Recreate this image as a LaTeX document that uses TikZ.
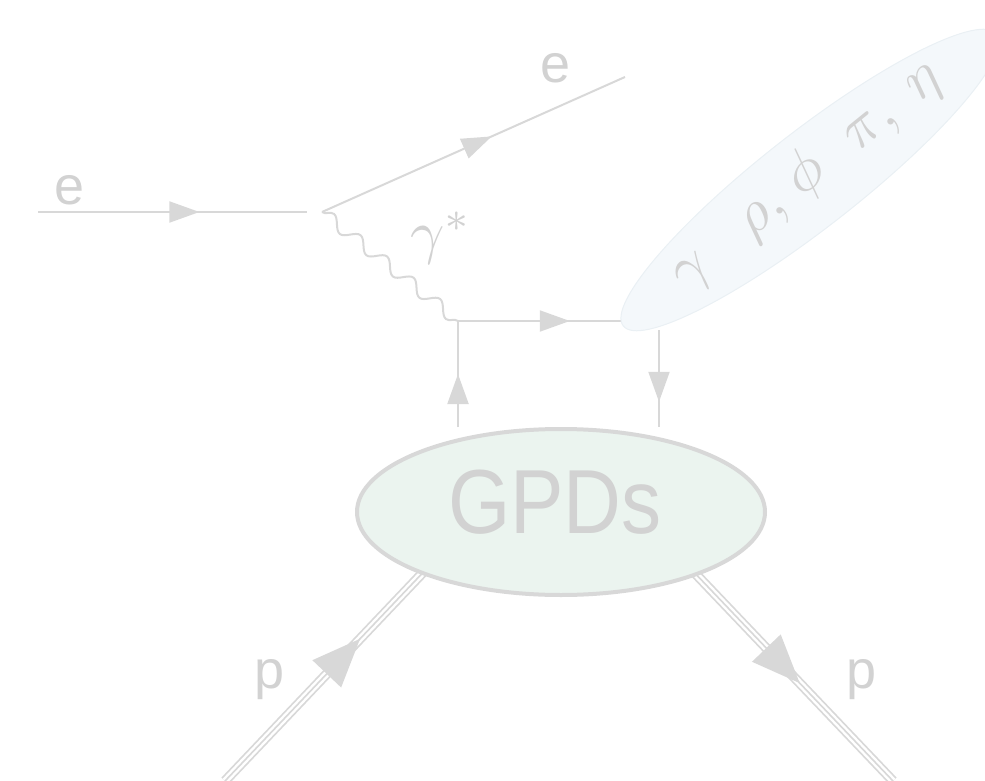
\documentclass[tikz,border=0pt]{standalone}
\usepackage{fontspec}
\setmainfont{Liberation Sans}
\usetikzlibrary{arrows.meta,decorations.markings,decorations.pathmorphing,shapes.geometric}
\definecolor{lin}{HTML}{D8D8D8}
\definecolor{txt}{HTML}{D2D2D2}
\definecolor{gpdfill}{HTML}{EBF4EF}
\definecolor{mesfill}{HTML}{F4F8FB}
\definecolor{mesdraw}{HTML}{EAF0F4}
\pgfdeclarelayer{bg}
\pgfsetlayers{bg,main}
\newcommand{\gk}[1]{\scalebox{6}{$#1$}}
\tikzset{
 fl/.style={color=lin, line width=2pt},
 ma/.style={postaction={decorate}, decoration={markings, mark=at position #1 with {\arrow{Triangle[length=30pt,width=21pt]}}}},
 prot/.style={color=lin, line width=10pt, postaction={draw=white, line width=6.5pt}, postaction={draw=lin, line width=1.6pt}},
 pma/.style={postaction={decorate, line width=1pt, decoration={markings, mark=at position #1 with {\arrow{Triangle[length=32pt,width=26pt]}}}}},
 lbl/.style={text=txt, font=\fontsize{54}{60}\selectfont, inner sep=0pt},
 grk/.style={text=txt, font=\fontsize{10}{12}\selectfont, inner sep=0pt, rotate=39},
}
\begin{document}
\begin{tikzpicture}[x=1pt,y=-1pt]
\useasboundingbox (0,0) rectangle (985,781);
% blobs
\node[ellipse, fill=mesfill, draw=mesdraw, line width=1pt, minimum width=474pt, minimum height=96pt, inner sep=0pt, rotate=38] (mes) at (810,180) {};
\node[ellipse, fill=gpdfill, draw=lin, line width=4pt, minimum width=408pt, minimum height=166pt, inner sep=0pt] (gpd) at (561,512) {};
\node[text=txt, font=\fontsize{91}{100}\selectfont, inner sep=0pt] (gpdtxt) at (555,502) {\scalebox{0.88}[1]{GPDs}};
% meson label
\node[grk] (mestxt) at (806,175) {\gk{\gamma\mkern15mu\rho,\mkern2mu\phi\mkern11mu\pi,\mkern5mu\eta}};
% labels
\node[lbl] (le1) at (70,190) {e};
\node[lbl] (le2) at (556,68) {e};
\node[lbl] (lp1) at (270,680) {p};
\node[lbl] (lp2) at (862,680) {p};
\node[text=txt, font=\fontsize{10}{12}\selectfont, inner sep=0pt] (lgam) at (441,238) {\gk{\gamma^*}};
% coordinates
\coordinate (ein) at (38,212);
\coordinate (gap) at (307,212);
\coordinate (v) at (322,212);
\coordinate (eout) at (625,77);
\coordinate (q1) at (458,321);
\coordinate (q2) at (630,321);
\coordinate (q3) at (659,330);
\coordinate (pin) at (225,781);
\coordinate (pin2) at (433,562);
\coordinate (pout1) at (690,568);
\coordinate (pout) at (893,781);
\begin{pgfonlayer}{bg}
\draw[fl, ma=0.6] (ein) -- (gap);
\draw[fl, ma=0.56] (v) -- (eout);
\draw[fl, decorate, decoration={snake, segment length=34pt, amplitude=6pt}] (v) -- (q1);
\draw[fl, ma=0.65] (q1) -- (q2);
\draw[fl, ma=0.5] (q1 |- gpd.north) -- (q1);
\draw[fl, ma=0.74] (q3) -- (q3 |- gpd.north);
\draw[prot, pma=0.61] (pin) -- (pin2);
\draw[prot, pma=0.5] (pout1) -- (pout);
\end{pgfonlayer}
\end{tikzpicture}
\end{document}
